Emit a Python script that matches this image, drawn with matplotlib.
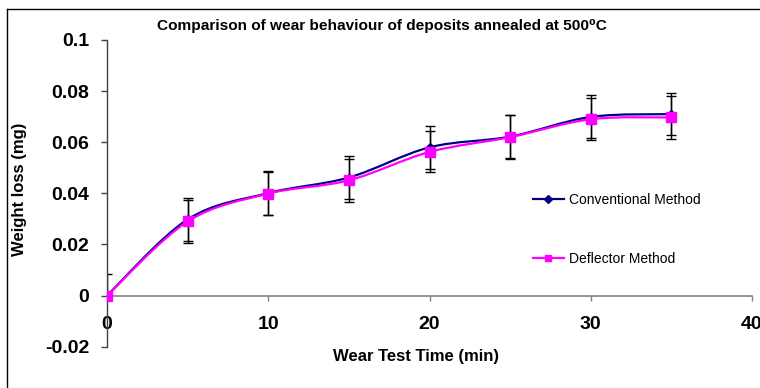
import numpy as np
import matplotlib
matplotlib.use("Agg")
import matplotlib.pyplot as plt
from matplotlib.path import Path
from matplotlib.patches import PathPatch
from matplotlib.lines import Line2D

plt.rcParams['font.family'] = ['Liberation Sans', 'DejaVu Sans']

# data
time_min = [0, 5, 10, 15, 20, 25, 30, 35]
conventional = [0.0, 0.0298, 0.0401, 0.0462, 0.0580, 0.0622, 0.0699, 0.0710]
conventional_err = [0.0085, 0.0085, 0.0085, 0.0085, 0.0085, 0.0085, 0.0084, 0.0083]
deflector = [0.0, 0.0290, 0.0399, 0.0451, 0.0562, 0.0620, 0.0690, 0.0697]
deflector_err = [0.0, 0.0083, 0.0084, 0.0083, 0.0080, 0.0085, 0.0083, 0.0083]

x_ticks = [0, 10, 20, 30, 40]
y_ticks = [-0.02, 0, 0.02, 0.04, 0.06, 0.08, 0.1]
y_tick_labels = ['-0.02', '0', '0.02', '0.04', '0.06', '0.08', '0.1']

navy = '#000080'
magenta = '#FF00FF'


def smooth_path(xs, ys):
    # Excel style smoothed line as cubic Bezier segments (Catmull-Rom control points)
    pts = np.column_stack([xs, ys]).astype(float)
    padded = np.vstack([pts[0], pts, pts[-1]])
    verts = [pts[0]]
    codes = [Path.MOVETO]
    for i in range(len(pts) - 1):
        p0, p1, p2, p3 = padded[i], padded[i + 1], padded[i + 2], padded[i + 3]
        verts += [p1 + (p2 - p0) / 6, p2 - (p3 - p1) / 6, p2]
        codes += [Path.CURVE4] * 3
    return Path(verts, codes)


fig = plt.figure(figsize=(7.6, 3.88), dpi=100)
ax = fig.add_axes([107 / 760, 1 - 346.7 / 388, 645 / 760, 306.7 / 388])

# error bars (upper half only for the zero point)
conv_lo = [0.0] + conventional_err[1:]
ax.errorbar(time_min, conventional, yerr=[conv_lo, conventional_err], fmt='none',
            ecolor='black', elinewidth=1, capsize=3.3, capthick=1, zorder=2)
ax.errorbar(time_min, deflector, yerr=deflector_err, fmt='none',
            ecolor='black', elinewidth=1, capsize=3.3, capthick=1, zorder=2)

ax.add_patch(PathPatch(smooth_path(time_min, conventional), fill=False,
                       edgecolor=navy, lw=1.6, zorder=3))
ax.plot(time_min, conventional, linestyle='none', marker='D', markersize=4,
        color=navy, zorder=4)
ax.add_patch(PathPatch(smooth_path(time_min, deflector), fill=False,
                       edgecolor=magenta, lw=1.6, zorder=5))
ax.plot(time_min, deflector, linestyle='none', marker='s', markersize=6.5,
        color=magenta, zorder=6)

ax.set_xlim(0, 40)
ax.set_ylim(-0.02, 0.1)
ax.set_xticks(x_ticks)
ax.set_xticklabels([str(t) for t in x_ticks])
ax.set_yticks(y_ticks)
ax.set_yticklabels(y_tick_labels)

ax.spines['top'].set_visible(False)
ax.spines['right'].set_visible(False)
ax.spines['bottom'].set_position(('data', 0))
ax.spines['bottom'].set_color('#808080')
ax.spines['bottom'].set_linewidth(1.2)
ax.spines['left'].set_color('#404040')
ax.spines['left'].set_linewidth(1.0)
ax.tick_params(axis='x', direction='out', length=3.6, width=1, color='#808080',
               pad=11, labelsize=14)
ax.tick_params(axis='y', direction='out', length=4.3, width=1, color='#404040',
               pad=8.5, labelsize=14)
for lab in ax.get_xticklabels() + ax.get_yticklabels():
    lab.set_fontweight('bold')

handles = [
    Line2D([], [], color=navy, lw=1.6, marker='D', markersize=4),
    Line2D([], [], color=magenta, lw=1.6, marker='s', markersize=5),
]
ax.legend(handles, ['Conventional Method', 'Deflector Method'], loc='upper left',
          bbox_to_anchor=(0.6605, 0.50), frameon=False, borderpad=0, borderaxespad=0,
          handlelength=2.2, handletextpad=0.4, labelspacing=3.2, fontsize=10)

fig.text(382 / 760, 1 - 26 / 388, 'Comparison of wear behaviour of deposits annealed at 500\u2070C',
         ha='center', va='center', fontsize=11.1, fontweight='bold')
fig.text(20 / 760, 1 - 189 / 388, 'Weight loss (mg)', rotation=90, ha='center',
         va='center', fontsize=12, fontweight='bold')
fig.text(416 / 760, 1 - 357 / 388, 'Wear Test Time (min)', ha='center', va='center',
         fontsize=12, fontweight='bold')

# outer chart-area border (left and top edges visible)
fig.add_artist(Line2D([7 / 760, 7 / 760], [0, 1 - 9 / 388], transform=fig.transFigure,
                      color='black', lw=1))
fig.add_artist(Line2D([7 / 760, 1], [1 - 9 / 388, 1 - 9 / 388], transform=fig.transFigure,
                      color='black', lw=1))

fig.savefig('out.png', dpi=100)
